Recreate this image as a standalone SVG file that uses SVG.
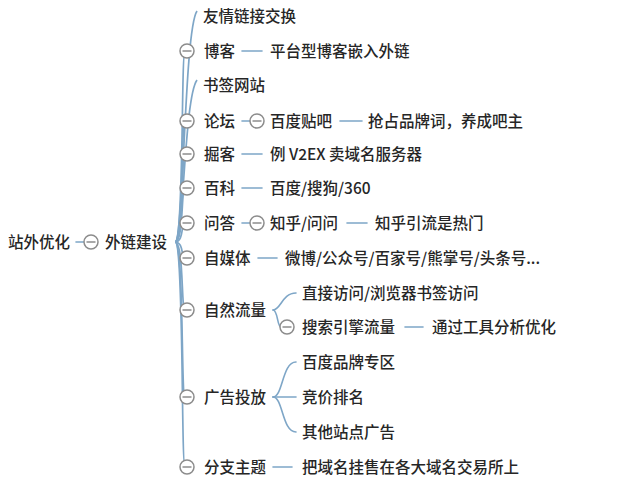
<svg xmlns="http://www.w3.org/2000/svg" width="641" height="485" viewBox="0 0 641 485">
<style>
text{font-family:"Noto Sans CJK SC","Noto Sans",sans-serif;font-size:15.5px;font-weight:500;fill:#262626}
.c{fill:none;stroke:#7ea6c7;stroke-width:1.6;stroke-linecap:round}
.f{fill:none;stroke:#7ea6c7;stroke-width:1.7}
.k circle{fill:#fff;stroke:#8c8c8c;stroke-width:1.5}
.k line{stroke:#8c8c8c;stroke-width:1.5}
</style>
<defs>
<g id="col" class="k"><circle cx="0" cy="0" r="7"/><line x1="-4.5" y1="0" x2="4.5" y2="0"/></g>
</defs>
<rect width="641" height="485" fill="#fff"/>
<g id="connectors">
<line class="c" x1="76" y1="242" x2="84" y2="242"/>
<path class="f" d="M175 242 C184 242 184 30 197 11"/>
<path class="f" d="M175 242 C184 242 181 51 185 51"/>
<path class="f" d="M175 242 C184 242 184 98 197 80"/>
<path class="f" d="M175 242 C184 242 181 121 185 121"/>
<path class="f" d="M175 242 C184 242 181 154 185 154"/>
<path class="f" d="M175 242 C184 242 181 188 185 188"/>
<path class="f" d="M175 242 C184 242 181 223 185 223"/>
<path class="f" d="M175 242 C184 242 181 258 185 258"/>
<path class="f" d="M175 242 C184 242 181 310 185 310"/>
<path class="f" d="M175 242 C184 242 181 397 185 397"/>
<path class="f" d="M175 242 C184 242 181 467 185 467"/>
<line class="c" x1="242" y1="51" x2="262" y2="51"/>
<line class="c" x1="242" y1="121" x2="251" y2="121"/>
<line class="c" x1="340" y1="121" x2="362" y2="121"/>
<line class="c" x1="242" y1="154" x2="262" y2="154"/>
<line class="c" x1="242" y1="188" x2="262" y2="188"/>
<line class="c" x1="242" y1="223" x2="251" y2="223"/>
<line class="c" x1="347" y1="223" x2="367" y2="223"/>
<line class="c" x1="258" y1="258" x2="277" y2="258"/>
<path class="c" d="M273 310 C281 310 282 293 296 293"/>
<path class="c" d="M273 310 C278 310 277 327 281 327"/>
<line class="c" x1="405" y1="327" x2="423" y2="327"/>
<path class="c" d="M273 397 C283 397 282 362 296 362"/>
<line class="c" x1="273" y1="397" x2="296" y2="397"/>
<path class="c" d="M273 397 C283 397 282 432 296 432"/>
<line class="c" x1="273" y1="467" x2="292" y2="467"/>
</g>
<g id="root"><text x="8" y="247.5">站外优化</text><use href="#col" x="91" y="242"/></g>
<g id="n-waililian"><text x="105" y="247.5">外链建设</text></g>
<g id="n-youqing"><text x="203" y="21.5">友情链接交换</text></g>
<g id="n-boke"><use href="#col" x="187" y="51"/><text x="204" y="56.5">博客</text></g>
<g id="n-boke-1"><text x="270" y="56.5">平台型博客嵌入外链</text></g>
<g id="n-shuqian"><text x="203" y="90.5">书签网站</text></g>
<g id="n-luntan"><use href="#col" x="187" y="121"/><text x="204" y="126.5">论坛</text></g>
<g id="n-tieba"><use href="#col" x="257" y="121"/><text x="270" y="126.5">百度贴吧</text></g>
<g id="n-tieba-1"><text x="368" y="126.5">抢占品牌词，养成吧主</text></g>
<g id="n-jueke"><use href="#col" x="187" y="154"/><text x="204" y="159.5">掘客</text></g>
<g id="n-jueke-1"><text x="270" y="159.5">例 V2EX 卖域名服务器</text></g>
<g id="n-baike"><use href="#col" x="187" y="188"/><text x="204" y="193.5">百科</text></g>
<g id="n-baike-1"><text x="270" y="193.5">百度/搜狗/360</text></g>
<g id="n-wenda"><use href="#col" x="187" y="223"/><text x="204" y="228.5">问答</text></g>
<g id="n-zhihu"><use href="#col" x="257" y="223"/><text x="270" y="228.5">知乎/问问</text></g>
<g id="n-zhihu-1"><text x="375" y="228.5">知乎引流是热门</text></g>
<g id="n-zimeiti"><use href="#col" x="187" y="258"/><text x="204" y="263.5">自媒体</text></g>
<g id="n-zimeiti-1"><text x="285" y="263.5">微博/公众号/百家号/熊掌号/头条号...</text></g>
<g id="n-ziran"><use href="#col" x="187" y="310"/><text x="204" y="315.5">自然流量</text></g>
<g id="n-zhijie"><text x="302" y="298.5">直接访问/浏览器书签访问</text></g>
<g id="n-sousuo"><use href="#col" x="287" y="327"/><text x="302" y="332.5">搜索引擎流量</text></g>
<g id="n-sousuo-1"><text x="432" y="332.5">通过工具分析优化</text></g>
<g id="n-guanggao"><use href="#col" x="187" y="397"/><text x="204" y="402.5">广告投放</text></g>
<g id="n-pinpai"><text x="302" y="367.5">百度品牌专区</text></g>
<g id="n-jingjia"><text x="302" y="402.5">竞价排名</text></g>
<g id="n-qita"><text x="302" y="437.5">其他站点广告</text></g>
<g id="n-fenzhi"><use href="#col" x="187" y="467"/><text x="204" y="472.5">分支主题</text></g>
<g id="n-fenzhi-1"><text x="302" y="472.5">把域名挂售在各大域名交易所上</text></g>
</svg>
